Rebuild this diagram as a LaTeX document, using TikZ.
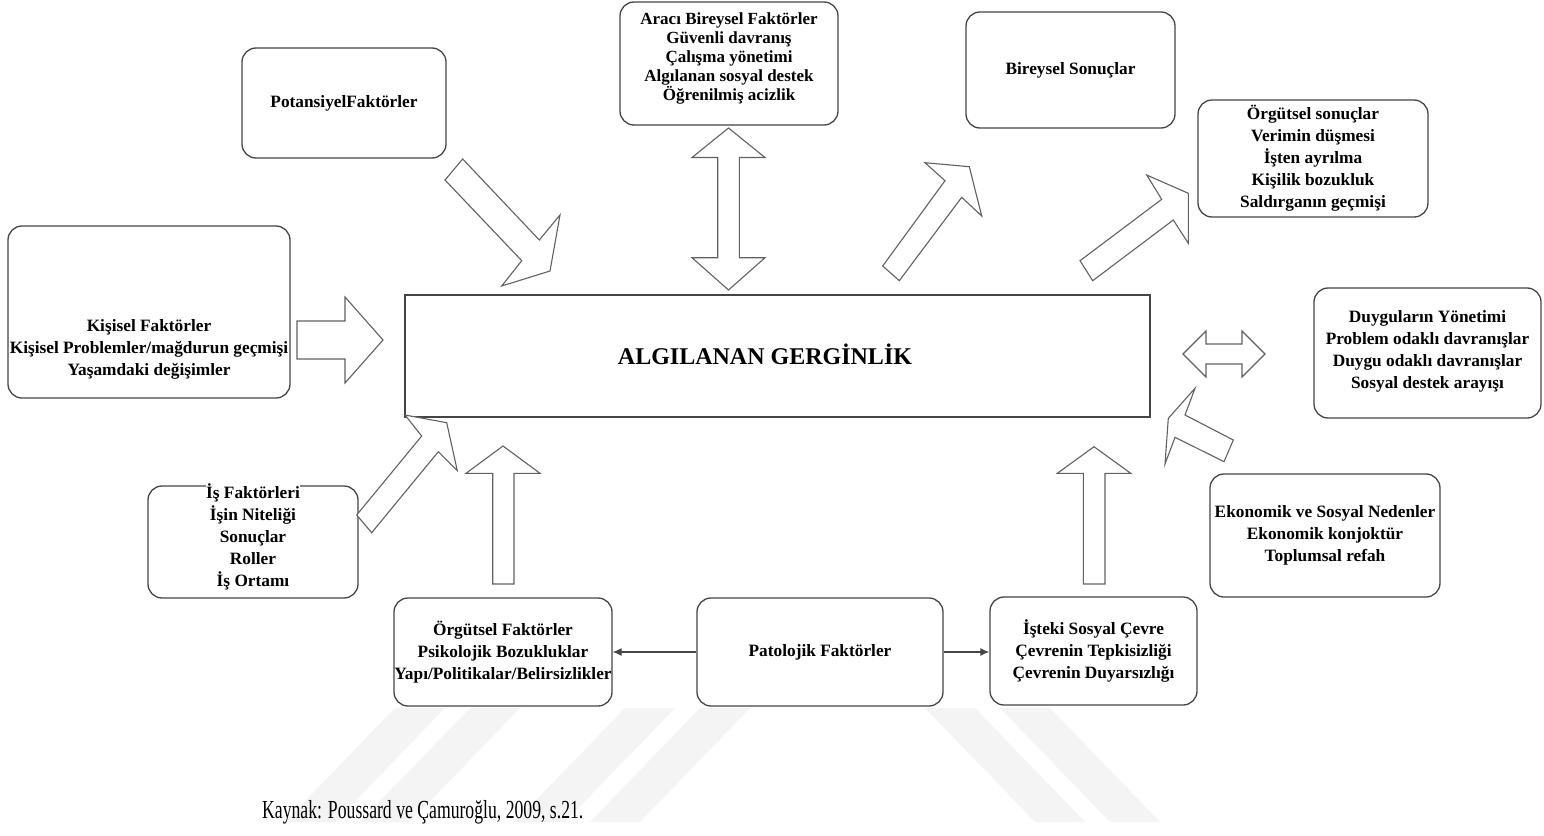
\documentclass[tikz,border=0pt]{standalone}
\usepackage{fontspec}
\setmainfont{Liberation Serif}
\newfontfamily\capfont[FakeStretch=0.68]{Liberation Serif}
\usetikzlibrary{arrows.meta}
\definecolor{edge}{HTML}{454545}
\definecolor{wm}{HTML}{F4F4F4}
\tikzset{
  rbox/.style={draw=edge, line width=1.3pt, rounded corners=14pt, fill=white,
    font=\bfseries\fontsize{17.3}{22}\selectfont, align=center, inner sep=0pt},
  mainbox/.style={draw=edge, line width=1.4pt, fill=white, inner sep=0pt},
  boxtext/.style={font=\bfseries\fontsize{17.3}{22}\selectfont, align=center, inner sep=0pt},
  blockarrow/.style={draw=edge!85, line width=1.1pt, fill=white, line join=miter},
  link/.style={draw=edge, line width=1.2pt, -{Latex[length=9pt,width=8pt]}},
  stripe/.style={fill=wm, draw=none},
}
\begin{document}
\begin{tikzpicture}[x=1pt,y=-1pt]
\useasboundingbox (0,0) rectangle (1544,835);
\fill[white] (0,0) rectangle (1544,835);

% faint diagonal bands behind the lower part
\fill[stripe] (395,708) -- (445,708) -- (335,822) -- (285,822) -- cycle;
\fill[stripe] (470,708) -- (520,708) -- (410,822) -- (360,822) -- cycle;
\fill[stripe] (625,708) -- (675,708) -- (565,822) -- (515,822) -- cycle;
\fill[stripe] (700,708) -- (750,708) -- (640,822) -- (590,822) -- cycle;
\fill[stripe] (925,708) -- (975,708) -- (1085,822) -- (1035,822) -- cycle;
\fill[stripe] (1000,708) -- (1050,708) -- (1160,822) -- (1110,822) -- cycle;

% outer factor boxes
\node[rbox, minimum width=204pt, minimum height=110pt] (pot) at (344,103) {PotansiyelFaktörler};
\node[rbox, minimum width=218pt, minimum height=123pt] (araci) at (729,63.5) {};
\node[boxtext, font=\bfseries\fontsize{17}{19}\selectfont] (araciT) at (729,58)
  {Aracı Bireysel Faktörler\\Güvenli davranış\\Çalışma yönetimi\\Algılanan sosyal destek\\Öğrenilmiş acizlik};
\node[rbox, minimum width=209pt, minimum height=116pt] (bsonuc) at (1070.5,70) {Bireysel Sonuçlar};
\node[rbox, minimum width=230pt, minimum height=117pt] (osonuc) at (1313,158.5)
  {Örgütsel sonuçlar\\Verimin düşmesi\\İşten ayrılma\\Kişilik bozukluk\\Saldırganın geçmişi};
\node[rbox, minimum width=282pt, minimum height=172pt] (kisisel) at (149,312) {};
\node[boxtext] (kisiselT) at (149,349) {Kişisel Faktörler\\Kişisel Problemler/mağdurun geçmişi\\Yaşamdaki değişimler};
\node[mainbox, minimum width=745pt, minimum height=122pt] (main) at (777.5,356) {};
\node[inner sep=0pt, font=\bfseries\fontsize{24}{28}\selectfont] (mainT) at (765,354) {ALGILANAN GERGİNLİK};
\node[rbox, minimum width=227pt, minimum height=130pt] (duygu) at (1427.5,353) {};
\node[boxtext] (duyguT) at (1427.5,351)
  {Duyguların Yönetimi\\Problem odaklı davranışlar\\Duygu odaklı davranışlar\\Sosyal destek arayışı};
\node[rbox, minimum width=210pt, minimum height=112pt] (is) at (253,542) {};
\node[boxtext, fill=white, anchor=north] (isT) at (253,483)
  {İş Faktörleri\\İşin Niteliği\\Sonuçlar\\Roller\\İş Ortamı};
\node[rbox, minimum width=230pt, minimum height=123pt] (eko) at (1325,535.5) {};
\node[boxtext] (ekoT) at (1325,535)
  {Ekonomik ve Sosyal Nedenler\\Ekonomik konjoktür\\Toplumsal refah};
\node[rbox, minimum width=218pt, minimum height=108pt] (orgfak) at (503,652)
  {Örgütsel Faktörler\\Psikolojik Bozukluklar\\Yapı/Politikalar/Belirsizlikler};
\node[rbox, minimum width=246pt, minimum height=108pt] (pato) at (820,652) {Patolojik Faktörler};
\node[rbox, minimum width=207pt, minimum height=108pt] (sosyal) at (1093.5,651)
  {İşteki Sosyal Çevre\\Çevrenin Tepkisizliği\\Çevrenin Duyarsızlığı};

% thin connectors from the pathological factors
\draw[link] (pato.west) -- (orgfak.east);
\draw[link] (pato.east) -- (pato.east -| sosyal.west);

% block arrows
% potential factors -> strain
\draw[blockarrow] (462.7,159) -- (445,180) -- (521.7,260.7) -- (501.7,286)
  -- (550,271) -- (560,215) -- (539.3,240) -- cycle;
% mediating individual factors <-> strain
\draw[blockarrow] (728.5,128) -- (765,157.5) -- (739.3,157.5) -- (739.3,257.7) -- (765,257.7)
  -- (728.5,290) -- (692,257.7) -- (717.7,257.7) -- (717.7,157.5) -- (692,157.5) -- cycle;
% strain -> individual outcomes
\draw[blockarrow] (882.7,266) -- (945,180.7) -- (925,162.7) -- (969.3,166.7)
  -- (981.7,216) -- (961.7,197.3) -- (899.3,280.7) -- cycle;
% strain -> organisational outcomes
\draw[blockarrow] (1080,260.7) -- (1161.7,199.3) -- (1146.7,175) -- (1188.3,193.3)
  -- (1188.3,243.3) -- (1173.3,220) -- (1092.7,280.7) -- cycle;
% personal factors -> strain
\draw[blockarrow] (297,321) -- (345,321) -- (345,297) -- (383,340) -- (345,383)
  -- (345,359) -- (297,359) -- cycle;
% job factors -> strain
\draw[blockarrow] (356.7,515) -- (421.7,436) -- (405,415) -- (446.7,422.7)
  -- (457.3,470.7) -- (438.3,451.7) -- (371.7,532.7) -- cycle;
% organisational factors -> strain
\draw[blockarrow] (503,446) -- (540,473.3) -- (514,473.3) -- (514,584) -- (492.7,584)
  -- (492.7,473.3) -- (466,473.3) -- cycle;
% social environment -> strain
\draw[blockarrow] (1094,446.7) -- (1130.7,473.3) -- (1105,473.3) -- (1105,584) -- (1083.3,584)
  -- (1083.3,473.3) -- (1057.3,473.3) -- cycle;
% economic and social causes -> strain
\draw[blockarrow] (1195,388.3) -- (1185,415) -- (1233.3,440) -- (1224,461.7)
  -- (1175,437.3) -- (1165,464) -- (1168.3,418.3) -- cycle;
% strain <-> coping
\draw[blockarrow] (1183,354) -- (1206,331) -- (1206,344) -- (1242,344) -- (1242,331)
  -- (1265,354) -- (1242,377) -- (1242,364) -- (1206,364) -- (1206,377) -- cycle;

% source line
\node[anchor=west, inner sep=0pt, font=\capfont\fontsize{26}{30}\selectfont] (src) at (262,812)
  {Kaynak: Poussard ve Çamuroğlu, 2009, s.21.};
\end{tikzpicture}
\end{document}
